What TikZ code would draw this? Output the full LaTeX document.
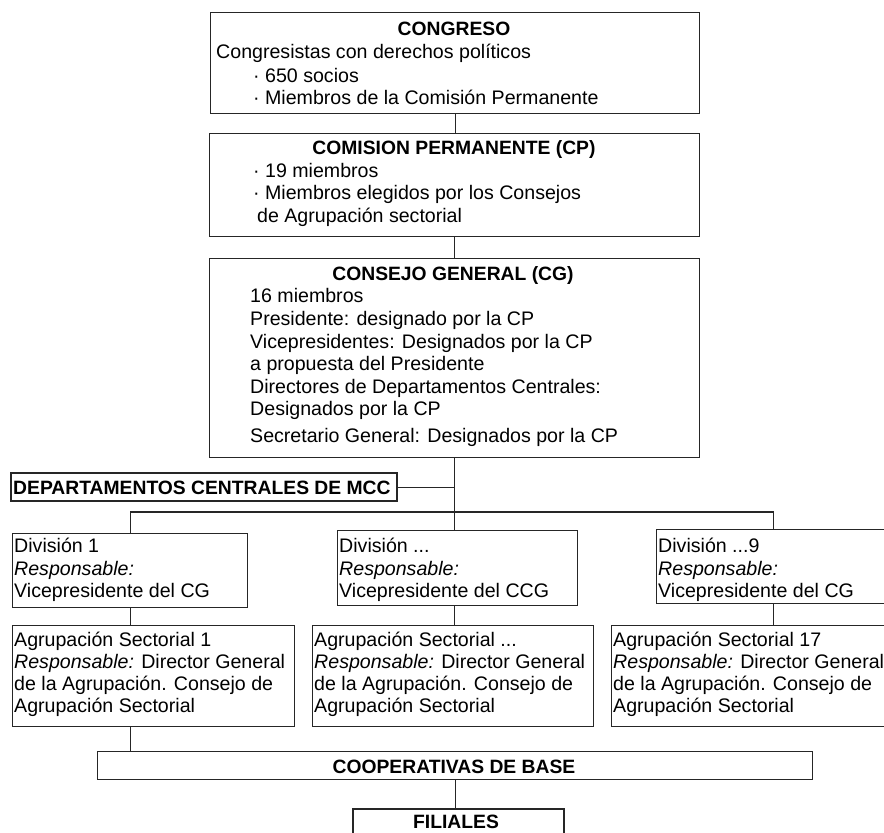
\documentclass[tikz,border=0pt]{standalone}
\usepackage{fontspec}
\setmainfont{Liberation Sans}
\begin{document}
\begin{tikzpicture}[x=1pt,y=-1pt,
  box/.style={draw=black!85, line width=1.1pt, inner sep=0pt, anchor=north west},
  thickbox/.style={box, line width=2.4pt},
  txt/.style={anchor=base west, inner sep=0pt, font=\fontsize{19.6}{22}\selectfont},
  ttl/.style={anchor=base, inner sep=0pt, font=\fontsize{19.3}{22}\selectfont\bfseries},
  conn/.style={draw=black!85, line width=1.1pt}]
\clip (0,0) rectangle (884,833);
\fill[white] (0,0) rectangle (884,833);
% boxes
\node[box, minimum width=489pt, minimum height=101pt] (cong) at (210,12) {};
\node[box, minimum width=490pt, minimum height=103pt] (cp) at (209,133) {};
\node[box, minimum width=490pt, minimum height=199pt] (cg) at (209,258) {};
\node[thickbox, minimum width=386pt, minimum height=28pt] (dept) at (10,472) {};
\node[box, minimum width=235pt, minimum height=74pt] (div1) at (12,533) {};
\node[box, minimum width=240pt, minimum height=75pt] (divm) at (337,530) {};
\node[box, minimum width=234pt, minimum height=74pt] (div9) at (656,529) {};
\node[box, minimum width=282pt, minimum height=101pt] (agr1) at (12,625) {};
\node[box, minimum width=281pt, minimum height=101pt] (agrm) at (312,625) {};
\node[box, minimum width=282pt, minimum height=101pt] (agr17) at (611,625) {};
\node[box, minimum width=715pt, minimum height=28pt] (coop) at (97,751) {};
\node[thickbox, minimum width=211pt, minimum height=60pt] (fil) at (352,808) {};
% texts
\node[ttl] (t1a) at (454,35) {CONGRESO};
\node[txt] (t1b) at (216,58) {Congresistas con derechos políticos};
\node[txt] (t1c) at (253,82) {· 650 socios};
\node[txt] (t1d) at (253,104) {· Miembros de la Comisión Permanente};
\node[ttl] (t2a) at (454,154) {COMISION PERMANENTE (CP)};
\node[txt] (t2b) at (253,177) {· 19 miembros};
\node[txt] (t2c) at (253,199) {· Miembros elegidos por los Consejos};
\node[txt] (t2d) at (257,222) {de Agrupación sectorial};
\node[ttl] (t3a) at (453,280) {CONSEJO GENERAL (CG)};
\node[txt] (t3b) at (250,302) {16 miembros};
\node[txt] (t3c) at (250,325) {Presidente: designado por la CP};
\node[txt] (t3d) at (250,348) {Vicepresidentes: Designados por la CP};
\node[txt] (t3e) at (250,370) {a propuesta del Presidente};
\node[txt] (t3f) at (250,393) {Directores de Departamentos Centrales:};
\node[txt] (t3g) at (250,415) {Designados por la CP};
\node[txt] (t3h) at (250,442) {Secretario General: Designados por la CP};
\node[ttl, anchor=base west] (t4) at (13,494) {DEPARTAMENTOS CENTRALES DE MCC};
\node[txt] (d1a) at (14,552) {División 1};
\node[txt] (d1b) at (14,575) {\itshape Responsable:};
\node[txt] (d1c) at (14,597) {Vicepresidente del CG};
\node[txt] (dma) at (339,552) {División ...};
\node[txt] (dmb) at (339,575) {\itshape Responsable:};
\node[txt] (dmc) at (339,597) {Vicepresidente del CCG};
\node[txt] (d9a) at (658,552) {División ...9};
\node[txt] (d9b) at (658,575) {\itshape Responsable:};
\node[txt] (d9c) at (658,597) {Vicepresidente del CG};
\node[txt] (a1a) at (14,646) {Agrupación Sectorial 1};
\node[txt] (a1b) at (14,668) {\textit{Responsable:} Director General};
\node[txt] (a1c) at (14,690) {de la Agrupación. Consejo de};
\node[txt] (a1d) at (14,712) {Agrupación Sectorial};
\node[txt] (ama) at (314,646) {Agrupación Sectorial ...};
\node[txt] (amb) at (314,668) {\textit{Responsable:} Director General};
\node[txt] (amc) at (314,690) {de la Agrupación. Consejo de};
\node[txt] (amd) at (314,712) {Agrupación Sectorial};
\node[txt] (a7a) at (613,646) {Agrupación Sectorial 17};
\node[txt] (a7b) at (613,668) {\textit{Responsable:} Director General};
\node[txt] (a7c) at (613,690) {de la Agrupación. Consejo de};
\node[txt] (a7d) at (613,712) {Agrupación Sectorial};
\node[ttl] (tc) at (454,773) {COOPERATIVAS DE BASE};
\node[ttl] (tf) at (456,828) {FILIALES};
% connectors
\coordinate (jh) at (454,512);
\draw[conn] (cong.south) -- (cong.south |- cp.north);
\draw[conn] (cp.south) -- (cp.south |- cg.north);
\draw[conn] (cg.south) -- (cg.south |- divm.north);
\draw[conn] (dept.east) -- (dept.east -| cg.south);
\draw[conn] (div1.north) -- (div1.north |- jh) -- (div9.north |- jh) -- (div9.north);
\draw[conn] (div1.south) -- (div1.south |- agr1.north);
\draw[conn] (cg.south |- divm.south) -- (cg.south |- agrm.north);
\draw[conn] (div9.south) -- (div9.south |- agr17.north);
\draw[conn] (div1.south |- agr1.south) -- (div1.south |- coop.north);
\draw[conn] (coop.south) -- (coop.south |- fil.north);
\end{tikzpicture}
\end{document}
